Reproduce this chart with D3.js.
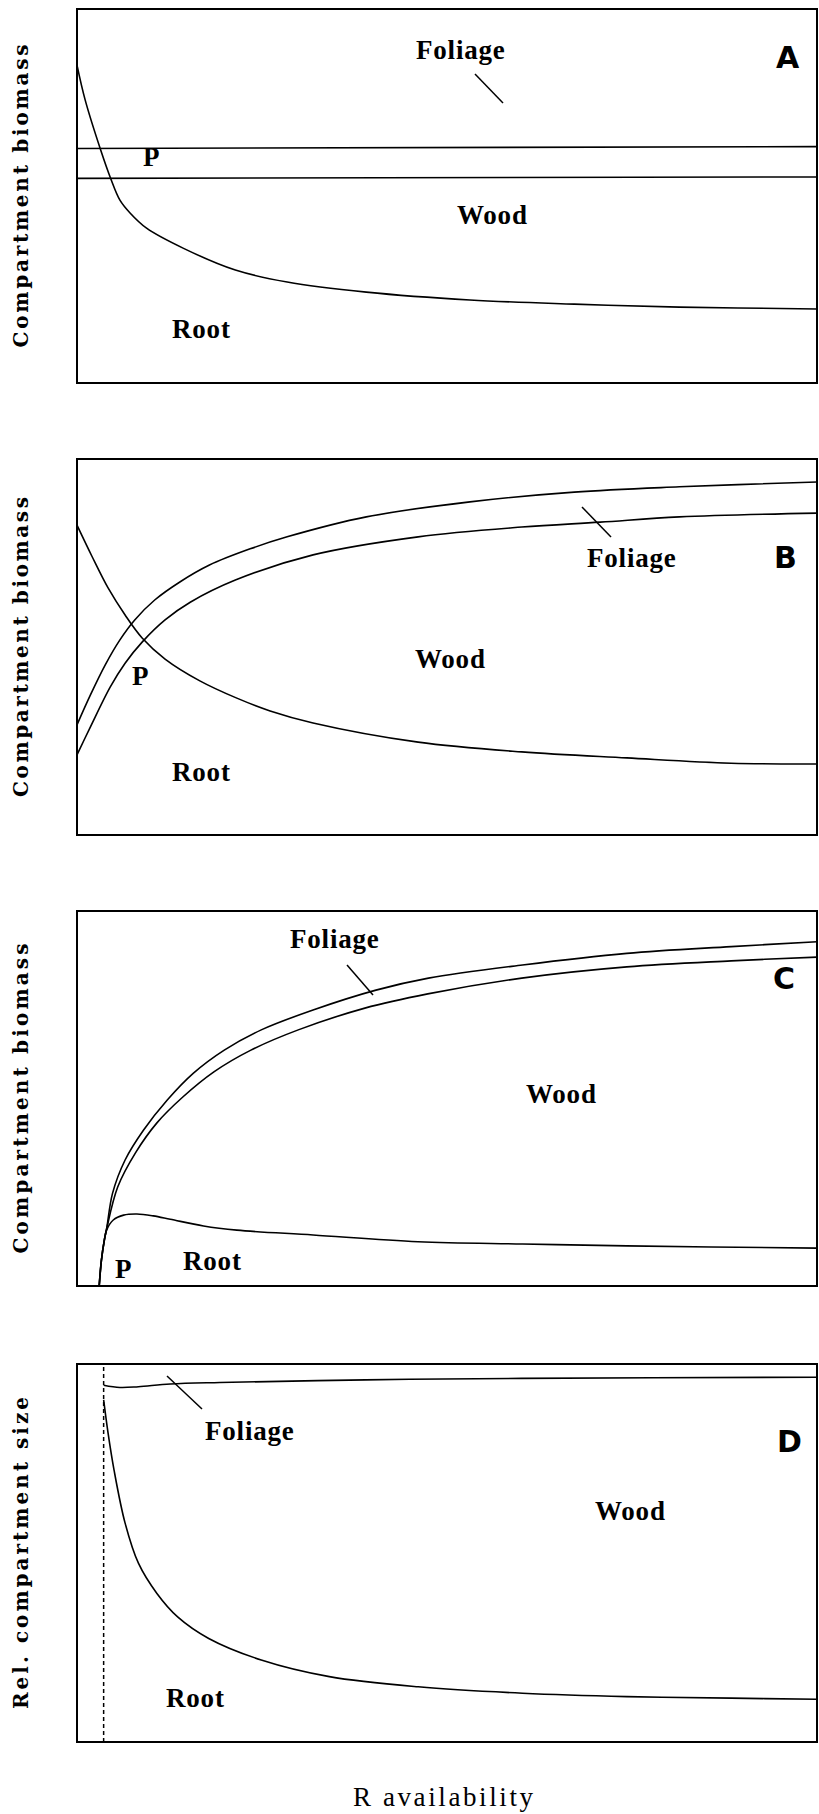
<!DOCTYPE html>
<html>
<head>
<meta charset="utf-8">
<script src="https://cdn.jsdelivr.net/npm/d3@7"></script>
<style>
  body { margin: 0; background: #fff; }
  svg { display: block; }
</style>
</head>
<body>
<script>
// Curve values, x and y in 0..100 units of each panel box

// Panel A
var upperA = [[0, 62.7], [100, 63.2]];
var lowerA = [[0, 54.7], [100, 55.1]];
var rootA = [[0, 85.0], [1.1, 75.7], [3.2, 62.3], [4.55, 54.7], [5.8, 48.9], [7.2, 45.4],
  [9.4, 41.4], [14.4, 36.0], [21.4, 30.2], [28.4, 27.0], [39.1, 24.3], [53.1, 22.2],
  [67.2, 21.1], [81.4, 20.3], [100, 19.8]];

// Panel B
var upperB = [[0, 29.3], [1.8, 37.2], [3.8, 45.2], [5.8, 51.9], [7.8, 57.2], [10.5, 62.5],
  [13.9, 67.3], [17.9, 71.8], [23.4, 76.1], [28.4, 79.3], [39.1, 84.6], [53.1, 88.6],
  [67.2, 91.2], [81.4, 92.6], [100, 93.9]];
var lowerB = [[0, 21.3], [1.8, 28.7], [4.5, 39.4], [6.5, 45.7], [8.8, 51.3], [11.9, 57.2],
  [15.3, 61.9], [21.4, 67.8], [31.9, 74.5], [46.1, 79.3], [60.1, 81.9], [70.7, 83.2],
  [81.4, 84.6], [100, 85.6]];
var rootB = [[0, 82.4], [2.0, 74.2], [4.2, 65.7], [6.5, 58.5], [8.8, 52.4], [11.9, 46.8],
  [16.6, 41.0], [21.6, 36.4], [26.1, 33.0], [31.9, 29.8], [46.1, 24.7], [60.1, 22.1],
  [74.3, 20.5], [88.4, 19.1], [100, 18.9]];

// Panel C
var upperC = [[3.0, 0], [3.3, 6.9], [3.7, 12.3], [4.0, 15.2], [4.8, 24.7], [6.5, 33.6],
  [9.0, 41.6], [12.2, 49.6], [15.7, 56.7], [19.9, 62.9], [24.9, 68.3], [31.9, 73.6],
  [40.4, 78.9], [47.5, 82.1], [60.2, 85.6], [74.3, 88.7], [88.4, 90.5], [100, 91.8]];
var lowerC = [[3.0, 0], [3.3, 6.9], [3.7, 12.3], [4.0, 15.2], [5.5, 26.4], [7.9, 35.5],
  [10.8, 43.5], [14.3, 50.4], [18.5, 57.1], [23.5, 62.9], [29.9, 68.3], [38.9, 74.1],
  [47.4, 77.9], [60.1, 82.1], [74.3, 85.1], [88.4, 86.7], [100, 87.7]];
var rootC = [[3.0, 0], [3.3, 6.9], [3.7, 12.3], [4.0, 14.9], [4.9, 17.6], [6.3, 18.9],
  [8.1, 19.2], [10.3, 18.7], [12.6, 17.8], [17.1, 16.0], [21.6, 14.9], [31.9, 13.6],
  [46.1, 11.8], [60.2, 11.2], [74.3, 10.7], [100, 10.1]];

// Panel D
var upperD = [[3.6, 94.4], [5.8, 93.8], [8.3, 94.0], [12.6, 94.7], [19.3, 95.1], [39.0, 95.8],
  [60.1, 96.2], [100, 96.5]];
var rootD = [[3.6, 90.5], [4.2, 81.7], [5.0, 72.0], [6.5, 57.9], [8.3, 47.3], [10.8, 39.3],
  [13.6, 33.1], [17.8, 27.4], [24.9, 21.7], [34.1, 17.3], [46.1, 14.6], [60.2, 12.9],
  [74.3, 12.0], [88.4, 11.6], [100, 11.3]];
var thresholdD = [[3.6, 0], [3.6, 100]];

// Texts
var panelLetters = ["A", "B", "C", "D"];
var yTitles = ["Compartment biomass", "Compartment biomass", "Compartment biomass", "Rel. compartment size"];
var xTitle = "R availability";

var width = 819, height = 1814;
var boxLeft = 77, boxRight = 817;

var svg = d3.select("body").append("svg")
  .attr("width", width)
  .attr("height", height);

var x = d3.scaleLinear().domain([0, 100]).range([boxLeft, boxRight]);

var line = function(y) {
  return d3.line()
    .x(function(d) { return x(d[0]); })
    .y(function(d) { return y(d[1]); })
    .curve(d3.curveCatmullRom.alpha(0.5));
};

// panel boxes and where their labels go (offsets from box top-left)
var panels = [
  { top: 9, bottom: 383, curves: [upperA, lowerA, rootA], titleLen: 303,
    labels: [["Foliage", 339, 50], ["P", 66, 157], ["Wood", 380, 215], ["Root", 95, 329]],
    leader: [398, 65, 426, 94], letter: [699, 59] },
  { top: 459, bottom: 835, curves: [upperB, lowerB, rootB], titleLen: 300,
    labels: [["Foliage", 510, 108], ["P", 55, 226], ["Wood", 338, 209], ["Root", 95, 322]],
    leader: [505, 48, 534, 78], letter: [697, 109] },
  { top: 911, bottom: 1286, curves: [upperC, lowerC, rootC], titleLen: 310,
    labels: [["Foliage", 213, 37], ["P", 38, 367], ["Wood", 449, 192], ["Root", 106, 359]],
    leader: [270, 54, 296, 84], letter: [696, 78] },
  { top: 1364, bottom: 1742, curves: [upperD, rootD], titleLen: 312,
    labels: [["Foliage", 128, 76], ["Wood", 518, 156], ["Root", 89, 343]],
    leader: [90, 12, 125, 45], letter: [700, 88], dashed: thresholdD }
];

panels.forEach(function(p, i) {
  var y = d3.scaleLinear().domain([0, 100]).range([p.bottom, p.top]);
  var g = svg.append("g");

  // frame
  g.append("rect")
    .attr("x", boxLeft)
    .attr("y", p.top)
    .attr("width", boxRight - boxLeft)
    .attr("height", p.bottom - p.top)
    .attr("fill", "none")
    .attr("stroke", "#000")
    .attr("stroke-width", 2);

  g.selectAll("path.curve")
    .data(p.curves)
    .enter()
    .append("path")
    .attr("class", "curve")
    .attr("d", line(y))
    .attr("fill", "none")
    .attr("stroke", "#000")
    .attr("stroke-width", 1.6);

  if (p.dashed) {
    g.append("path")
      .attr("d", d3.line().x(function(d) { return x(d[0]); }).y(function(d) { return y(d[1]); })(p.dashed))
      .attr("stroke", "#000")
      .attr("stroke-width", 1.5)
      .attr("stroke-dasharray", "4,3");
  }

  // leader line to Foliage
  g.append("line")
    .attr("x1", boxLeft + p.leader[0]).attr("y1", p.top + p.leader[1])
    .attr("x2", boxLeft + p.leader[2]).attr("y2", p.top + p.leader[3])
    .attr("stroke", "#000")
    .attr("stroke-width", 1.5);

  g.selectAll("text.region")
    .data(p.labels)
    .enter()
    .append("text")
    .attr("class", "region")
    .attr("x", function(d) { return boxLeft + d[1]; })
    .attr("y", function(d) { return p.top + d[2]; })
    .attr("font-family", "Liberation Serif, serif")
    .attr("font-weight", "bold")
    .attr("font-size", 27)
    .attr("letter-spacing", 0.8)
    .attr("fill", "#000")
    .text(function(d) { return d[0]; });

  g.append("text")
    .attr("x", boxLeft + p.letter[0])
    .attr("y", p.top + p.letter[1])
    .attr("font-family", "DejaVu Sans, sans-serif")
    .attr("font-weight", "bold")
    .attr("font-size", 30)
    .text(panelLetters[i]);

  // y title
  var cy = (p.top + p.bottom) / 2;
  g.append("text")
    .attr("transform", "translate(28," + cy + ") rotate(-90)")
    .attr("text-anchor", "middle")
    .attr("font-family", "DejaVu Serif, serif")
    .attr("font-weight", "bold")
    .attr("font-size", 20)
    .attr("textLength", p.titleLen)
    .attr("lengthAdjust", "spacing")
    .text(yTitles[i]);
});

svg.append("text")
  .attr("x", 353)
  .attr("y", 1806)
  .attr("font-family", "Liberation Serif, serif")
  .attr("font-size", 27)
  .attr("textLength", 180)
  .attr("lengthAdjust", "spacing")
  .text(xTitle);
</script>
</body>
</html>
